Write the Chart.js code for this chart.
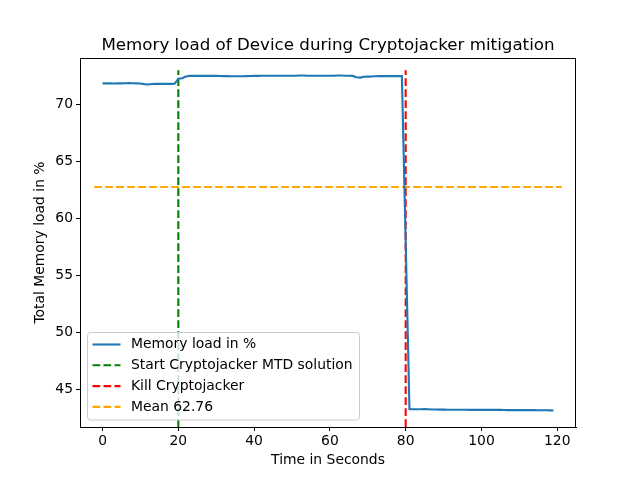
<!DOCTYPE html>
<html lang="en">
<head>
    <meta charset="UTF-8">
    <title>Memory load of Device during Cryptojacker mitigation</title>
    <script src="https://cdn.jsdelivr.net/npm/chart.js@4.4.1/dist/chart.umd.min.js"></script>
    <style>
        body { margin: 0; padding: 0; background: #ffffff; }
        #memChart { display: block; }
    </style>
</head>
<body>
    <canvas id="memChart" width="640" height="480"></canvas>

    <script>
        // memory load sampled once per second (t = 0 .. 119)
        const memoryLoad = [
            71.85, 71.85, 71.85, 71.84, 71.85, 71.85, 71.86, 71.87, 71.86, 71.85,
            71.83, 71.78, 71.75, 71.79, 71.80, 71.80, 71.80, 71.80, 71.80, 71.81,
            72.25, 72.30, 72.45, 72.50, 72.50, 72.50, 72.50, 72.50, 72.50, 72.50,
            72.50, 72.49, 72.48, 72.48, 72.47, 72.47, 72.47, 72.47, 72.48, 72.49,
            72.50, 72.50, 72.51, 72.51, 72.51, 72.52, 72.52, 72.52, 72.52, 72.52,
            72.52, 72.52, 72.53, 72.53, 72.52, 72.52, 72.52, 72.51, 72.51, 72.51,
            72.51, 72.52, 72.53, 72.53, 72.52, 72.52, 72.50, 72.38, 72.35, 72.42,
            72.44, 72.45, 72.47, 72.48, 72.48, 72.48, 72.48, 72.48, 72.48, 72.48,
            58.00, 43.28, 43.28, 43.28, 43.28, 43.30, 43.29, 43.27, 43.26, 43.25,
            43.25, 43.24, 43.24, 43.24, 43.24, 43.24, 43.24, 43.23, 43.23, 43.23,
            43.23, 43.23, 43.23, 43.23, 43.23, 43.23, 43.22, 43.21, 43.21, 43.21,
            43.21, 43.21, 43.21, 43.21, 43.21, 43.20, 43.20, 43.20, 43.19, 43.17
        ];

        const startMtdAt = 20;
        const killAt = 80;
        const vlineTop = 73;
        const meanValue = 62.76;
        const meanSpan = [-2.2, 121.2];

        const xTicks = [0, 20, 40, 60, 80, 100, 120];
        const yTicks = [45, 50, 55, 60, 65, 70];
        const xRange = [-5.95, 124.95];
        const yRange = [41.73, 74.07];

        const FONT = '"DejaVu Sans", Verdana, sans-serif';
        const dashed = [7.7, 3.3];
        const LW = 2.1;

        const legendItems = [
            { label: 'Memory load in %', color: '#1f77b4', dash: [] },
            { label: 'Start Cryptojacker MTD solution', color: '#008000', dash: dashed },
            { label: 'Kill Cryptojacker', color: '#ff0000', dash: dashed },
            { label: 'Mean 62.76', color: '#ffa500', dash: dashed }
        ];

        const datasets = [
            {
                label: 'Memory load in %',
                data: memoryLoad.map((v, i) => ({ x: i, y: v })),
                borderColor: '#1f77b4',
                borderWidth: LW,
                pointRadius: 0,
                tension: 0
            },
            {
                label: 'Start Cryptojacker MTD solution',
                data: [{ x: startMtdAt, y: yRange[0] }, { x: startMtdAt, y: vlineTop }],
                borderColor: '#008000',
                borderWidth: LW,
                borderDash: dashed,
                pointRadius: 0
            },
            {
                label: 'Kill Cryptojacker',
                data: [{ x: killAt, y: yRange[0] }, { x: killAt, y: vlineTop }],
                borderColor: '#ff0000',
                borderWidth: LW,
                borderDash: dashed,
                pointRadius: 0
            },
            {
                label: 'Mean 62.76',
                data: [{ x: meanSpan[0], y: meanValue }, { x: meanSpan[1], y: meanValue }],
                borderColor: '#ffa500',
                borderWidth: LW,
                borderDash: dashed,
                pointRadius: 0
            }
        ];

        // frame, titles and the matplotlib-style legend
        const decorations = {
            id: 'decorations',
            afterDatasetsDraw(chart) {
                const ctx = chart.ctx;

                // legend box
                const lx = 87.5, ly = 332.5, lw = 272, lh = 87.5;
                ctx.save();
                ctx.beginPath();
                ctx.roundRect(lx, ly, lw, lh, 3);
                ctx.fillStyle = 'rgba(255,255,255,0.8)';
                ctx.fill();
                ctx.strokeStyle = '#cccccc';
                ctx.lineWidth = 1;
                ctx.stroke();

                ctx.font = '13.9px ' + FONT;
                ctx.textBaseline = 'middle';
                ctx.textAlign = 'left';
                legendItems.forEach((item, i) => {
                    const y = 344.5 + i * 20.8;
                    ctx.beginPath();
                    ctx.setLineDash(item.dash);
                    ctx.strokeStyle = item.color;
                    ctx.lineWidth = LW;
                    ctx.moveTo(92.5, y);
                    ctx.lineTo(120.5, y);
                    ctx.stroke();
                    ctx.fillStyle = '#000000';
                    ctx.fillText(item.label, 131, y);
                });
                ctx.restore();
            },
            afterDraw(chart) {
                const ctx = chart.ctx;
                const a = chart.chartArea;
                ctx.save();
                ctx.strokeStyle = '#000000';
                ctx.lineWidth = 1;
                ctx.setLineDash([]);
                ctx.strokeRect(a.left + 0.5, a.top + 0.5, a.right - a.left - 1, a.bottom - a.top);

                const cx = (a.left + a.right) / 2;
                ctx.fillStyle = '#000000';
                ctx.textAlign = 'center';

                ctx.font = '16.7px ' + FONT;
                ctx.textBaseline = 'alphabetic';
                ctx.fillText('Memory load of Device during Cryptojacker mitigation', cx, 49.5);

                ctx.font = '13.9px ' + FONT;
                ctx.textBaseline = 'top';
                ctx.fillText('Time in Seconds', cx, 453);

                ctx.translate(47, (a.top + a.bottom) / 2);
                ctx.rotate(-Math.PI / 2);
                ctx.textBaseline = 'bottom';
                ctx.fillText('Total Memory load in %', 0, 0);
                ctx.restore();
            }
        };

        const tickFont = { family: FONT, size: 13.9 };

        new Chart(document.getElementById('memChart'), {
            type: 'line',
            data: { datasets: datasets },
            options: {
                responsive: false,
                animation: false,
                devicePixelRatio: 1,
                layout: { padding: { top: 58, right: 64, left: 0, bottom: 0 } },
                plugins: {
                    legend: { display: false },
                    title: { display: false },
                    tooltip: { enabled: false }
                },
                scales: {
                    x: {
                        type: 'linear',
                        min: xRange[0],
                        max: xRange[1],
                        afterBuildTicks: (scale) => { scale.ticks = xTicks.map(v => ({ value: v })); },
                        afterFit: (scale) => { scale.height = 53; },
                        grid: { display: true, drawOnChartArea: false, drawTicks: true, tickLength: 4, color: '#000000' },
                        border: { display: true, color: '#000000' },
                        ticks: { color: '#000000', font: tickFont, padding: 2, maxRotation: 0 }
                    },
                    y: {
                        type: 'linear',
                        min: yRange[0],
                        max: yRange[1],
                        afterBuildTicks: (scale) => { scale.ticks = yTicks.map(v => ({ value: v })); },
                        afterFit: (scale) => { scale.width = 80; },
                        grid: { display: true, drawOnChartArea: false, drawTicks: true, tickLength: 4, color: '#000000' },
                        border: { display: true, color: '#000000' },
                        ticks: { color: '#000000', font: tickFont, padding: 3 }
                    }
                }
            },
            plugins: [decorations]
        });
    </script>
</body>
</html>
